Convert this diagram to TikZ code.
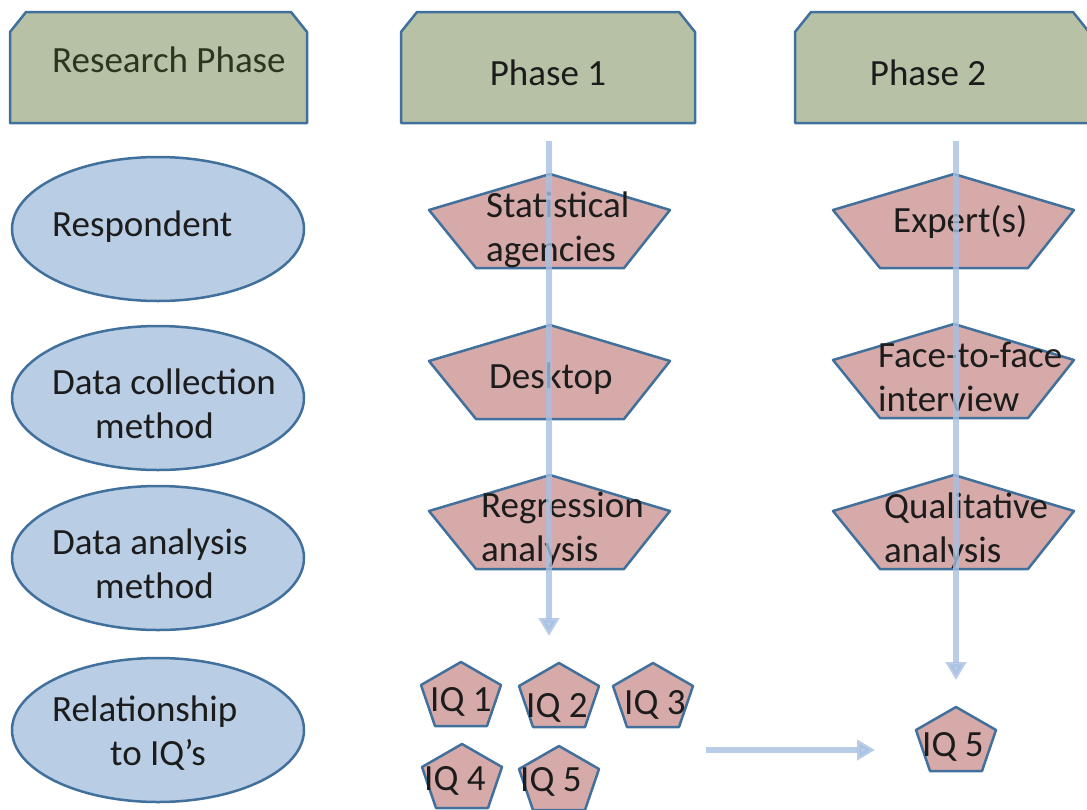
\documentclass[tikz,border=0pt]{standalone}
\usepackage{fontspec}
\setmainfont{Carlito}
\usetikzlibrary{shapes.geometric,arrows.meta}

\definecolor{phasegreen}{HTML}{B7C1A6}
\definecolor{edgeblue}{HTML}{41709C}
\definecolor{ovalblue}{HTML}{B9CDE5}
\definecolor{pentpink}{HTML}{D5AAA8}
\definecolor{flowblue}{HTML}{A7C0E2}
\definecolor{textdark}{HTML}{1C1C1C}
\definecolor{textolive}{HTML}{2B3520}

\tikzset{
  phaseshape/.style={draw=edgeblue, line width=2.5pt, fill=phasegreen, line join=round},
  rolebox/.style={ellipse, minimum width=292pt, minimum height=144pt, inner sep=0pt,
    draw=edgeblue, line width=2.5pt, fill=ovalblue},
  pentshape/.style={draw=edgeblue, line width=2.5pt, fill=pentpink, line join=round},
  flowarrow/.style={draw=flowblue, line width=6pt, opacity=0.8,
    -{Triangle[width=20pt,length=18pt]}},
  lbl/.style={font=\fontsize{37}{44}\selectfont, text=textdark, inner sep=0pt}
}

% header box with cut top corners, given by left and right edge
\newcommand{\headbox}[3]{\draw[phaseshape] (#2,123) -- (#2,32) -- (#2+16,12) -- (#3-16,12) -- (#3,32) -- (#3,123) -- cycle;
  \coordinate (#1) at ({(#2+#3)/2},67.5);}
% pentagons given by their top corner
\newcommand{\bigpent}[1]{\draw[pentshape] (#1) -- ++(120,36) -- ++(-46,58) -- ++(-148,0) -- ++(-47,-58) -- cycle;}
\newcommand{\smallpent}[1]{\draw[pentshape] (#1) -- ++(40,23) -- ++(-14,41) -- ++(-52,0) -- ++(-14,-41) -- cycle;}

\begin{document}
\begin{tikzpicture}[x=1pt,y=-1pt]
  \useasboundingbox (0,0) rectangle (1087,809);

  % header boxes
  \headbox{resphase}{10}{307}
  \headbox{phaseone}{401}{695}
  \headbox{phasetwo}{795}{1089}
  \node[lbl, text=textolive, anchor=base west] (resphasetxt) at (52,72) {Research Phase};
  \node[lbl, anchor=base] (phaseonetxt) at (548,85) {Phase 1};
  \node[lbl, anchor=base] (phasetwotxt) at (928,85) {Phase 2};

  % row labels
  \node[rolebox] (respondent) at (158,229) {};
  \node[rolebox] (collect) at (158,398) {};
  \node[rolebox] (analyse) at (158,558) {};
  \node[rolebox] (relation) at (158,730) {};
  \node[lbl, anchor=base west] (respondenttxt) at (52,236) {Respondent};
  \node[lbl, anchor=base west, align=left] (collecttxt) at (52,438) {Data collection\\\hspace*{43pt}method};
  \node[lbl, anchor=base west, align=left] (analysetxt) at (52,598) {Data analysis\\\hspace*{43pt}method};
  \node[lbl, anchor=base west, align=left] (relationtxt) at (52,765) {Relationship\\\hspace*{58pt}to IQ’s};

  % phase 1 column
  \coordinate (stat) at (550,174);
  \coordinate (desk) at (550,325);
  \coordinate (regr) at (550,475);
  \bigpent{stat}
  \bigpent{desk}
  \bigpent{regr}
  \node[lbl, anchor=base west, align=left] (stattxt) at (486,261) {Statistical\\agencies};
  \node[lbl, anchor=base west] (desktxt) at (489,388) {Desktop};
  \node[lbl, anchor=base west, align=left] (regrtxt) at (481,561) {Regression\\analysis};

  % phase 2 column
  \coordinate (expert) at (954,174);
  \coordinate (face) at (954,324);
  \coordinate (qual) at (954,475);
  \bigpent{expert}
  \bigpent{face}
  \bigpent{qual}
  \node[lbl, anchor=base west] (experttxt) at (893,232) {Expert(s)};
  \node[lbl, anchor=base west, align=left] (facetxt) at (878,411) {Face-to-face\\interview};
  \node[lbl, anchor=base west, align=left] (qualtxt) at (884,562) {Qualitative\\analysis};

  % research questions
  \coordinate (iqa) at (461,662);
  \coordinate (iqb) at (559,663);
  \coordinate (iqc) at (653,663);
  \coordinate (iqd) at (462,744);
  \coordinate (iqe) at (559,746);
  \coordinate (iqf) at (956,707);
  \foreach \q in {iqa,iqb,iqc,iqd,iqe,iqf} {\smallpent{\q}}
  \node[lbl, anchor=base west] (iqatxt) at (430,711) {IQ 1};
  \node[lbl, anchor=base west] (iqbtxt) at (526,717) {IQ 2};
  \node[lbl, anchor=base west] (iqctxt) at (624,714) {IQ 3};
  \node[lbl, anchor=base west] (iqdtxt) at (424,790) {IQ 4};
  \node[lbl, anchor=base west] (iqetxt) at (520,791) {IQ 5};
  \node[lbl, anchor=base west] (iqftxt) at (922,756) {IQ 5};

  % flow arrows
  \coordinate (oneflowtop) at (549,141);
  \coordinate (oneflowend) at (549,636);
  \coordinate (twoflowtop) at (956,141);
  \coordinate (twoflowend) at (956,680);
  \coordinate (handoff) at (706,750);
  \coordinate (handoffend) at (875,750);
  \draw[flowarrow] (oneflowtop) -- (oneflowend);
  \draw[flowarrow] (twoflowtop) -- (twoflowend);
  \draw[flowarrow] (handoff) -- (handoffend);
\end{tikzpicture}
\end{document}
